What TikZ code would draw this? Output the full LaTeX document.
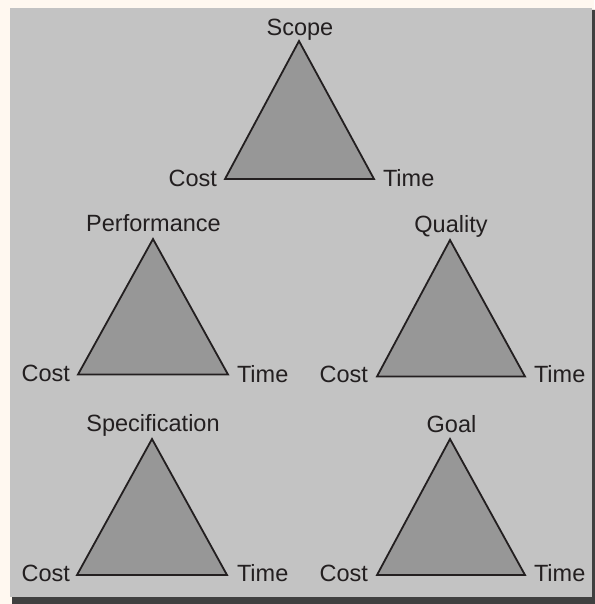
\documentclass[tikz,border=0pt]{standalone}
\usepackage{fontspec}
\setmainfont{Liberation Sans}
\definecolor{cream}{HTML}{FFF8F0}
\definecolor{panel}{HTML}{C3C3C3}
\definecolor{trifill}{HTML}{979797}
\definecolor{ink}{HTML}{231F20}
\definecolor{shadowc}{HTML}{404040}
\begin{document}
\begin{tikzpicture}[x=1pt,y=-1pt,
  tri/.style={draw=ink,fill=trifill,line width=1.8pt,line join=miter},
  lbl/.style={inner sep=0pt,outer sep=0pt,text=ink,font=\fontsize{23.5}{26}\selectfont}]
\useasboundingbox (0,0) rectangle (594,604);
\fill[cream] (0,0) rectangle (594,604);
\fill[shadowc] (12,11) -- (13,10) -- (600,10) -- (600,610) -- (12,610) -- cycle;
\fill[panel] (10,8) rectangle (592,597);
% top
\coordinate (sA) at (299,41); \coordinate (sB) at (225,179); \coordinate (sC) at (374,179);
\draw[tri] (sA) -- (sB) -- (sC) -- cycle;
\node[lbl,anchor=base] (scope) at (300,36) {Scope};
\node[lbl,anchor=base east] (scost) at (217,186) {Cost};
\node[lbl,anchor=base west] (stime) at (383,186) {Time};
% middle left
\coordinate (pA) at (153,239); \coordinate (pB) at (78,374.5); \coordinate (pC) at (228,374.5);
\draw[tri] (pA) -- (pB) -- (pC) -- cycle;
\node[lbl,anchor=base] (perf) at (153.5,231) {Performance};
\node[lbl,anchor=base east] (pcost) at (70,381.5) {Cost};
\node[lbl,anchor=base west] (ptime) at (237,382) {Time};
% middle right
\coordinate (qA) at (450,240); \coordinate (qB) at (377,376.5); \coordinate (qC) at (525,376.5);
\draw[tri] (qA) -- (qB) -- (qC) -- cycle;
\node[lbl,anchor=base] (qual) at (451,232) {Quality};
\node[lbl,anchor=base east] (qcost) at (368,382) {Cost};
\node[lbl,anchor=base west] (qtime) at (534,382) {Time};
% bottom left
\coordinate (fA) at (152,439); \coordinate (fB) at (77,575); \coordinate (fC) at (227,575);
\draw[tri] (fA) -- (fB) -- (fC) -- cycle;
\node[lbl,anchor=base] (spec) at (153,431) {Specification};
\node[lbl,anchor=base east] (fcost) at (70,581) {Cost};
\node[lbl,anchor=base west] (ftime) at (237,581) {Time};
% bottom right
\coordinate (gA) at (450,439); \coordinate (gB) at (377,575); \coordinate (gC) at (525,575);
\draw[tri] (gA) -- (gB) -- (gC) -- cycle;
\node[lbl,anchor=base] (goal) at (451.5,432) {Goal};
\node[lbl,anchor=base east] (gcost) at (368,581) {Cost};
\node[lbl,anchor=base west] (gtime) at (534,581) {Time};
\end{tikzpicture}
\end{document}
